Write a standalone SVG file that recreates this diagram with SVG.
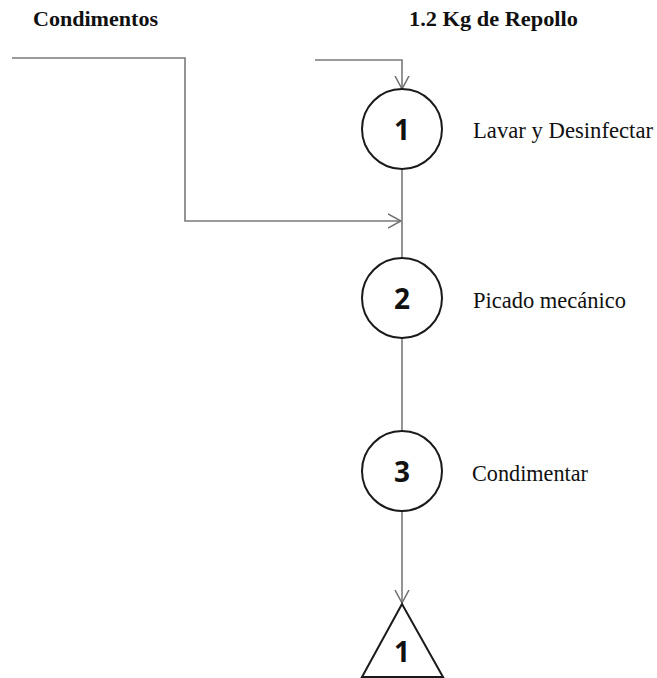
<svg xmlns="http://www.w3.org/2000/svg" width="657" height="678" viewBox="0 0 657 678">
  <defs>
    <marker id="chev" viewBox="0 0 14 16" refX="13" refY="8" markerWidth="14" markerHeight="16" markerUnits="userSpaceOnUse" orient="auto">
      <path d="M0,1 L13,8 L0,15" fill="none" stroke="#6e6e6e" stroke-width="1.5"/>
    </marker>
  </defs>
  <style>
    .flow { fill: none; stroke: #7a7a7a; stroke-width: 1.6; }
    .op { fill: #ffffff; stroke: #1a1a1a; stroke-width: 2; }
    .num { font-family: "Open Sans", "Liberation Sans", sans-serif; font-weight: bold; font-size: 28px; fill: #111; text-anchor: middle; }
    .head { font-family: "Liberation Serif", serif; font-weight: bold; font-size: 20.5px; fill: #111; }
    .lbl { font-family: "Liberation Serif", serif; font-size: 22.5px; fill: #111; }
  </style>

  <rect width="657" height="678" fill="#ffffff"/>

  <!-- input labels -->
  <text class="head" x="33" y="26" textLength="125" lengthAdjust="spacingAndGlyphs">Condimentos</text>
  <text class="head" x="409" y="26" textLength="169" lengthAdjust="spacingAndGlyphs">1.2 Kg de Repollo</text>

  <!-- connectors -->
  <g id="connectors">
    <path class="flow" d="M315,60 H402 V89" marker-end="url(#chev)"/>
    <path class="flow" d="M12,58 H185 V221 H401" marker-end="url(#chev)"/>
    <path class="flow" d="M402,169 V258"/>
    <path class="flow" d="M402,338 V431"/>
    <path class="flow" d="M402,511 V603" marker-end="url(#chev)"/>
  </g>

  <g id="op1">
    <circle class="op" cx="402" cy="129" r="40"/>
    <text class="num" x="402" y="140">1</text>
    <text class="lbl" x="473" y="138" textLength="180" lengthAdjust="spacingAndGlyphs">Lavar y Desinfectar</text>
  </g>

  <g id="op2">
    <circle class="op" cx="402" cy="298" r="40"/>
    <text class="num" x="402" y="309">2</text>
    <text class="lbl" x="473" y="308" textLength="153" lengthAdjust="spacingAndGlyphs">Picado mecánico</text>
  </g>

  <g id="op3">
    <circle class="op" cx="402" cy="471" r="40"/>
    <text class="num" x="402" y="482">3</text>
    <text class="lbl" x="472" y="481" textLength="116" lengthAdjust="spacingAndGlyphs">Condimentar</text>
  </g>

  <g id="store1">
    <polygon class="op" points="402,604 362,677 443,677"/>
    <text class="num" x="402" y="662">1</text>
  </g>
</svg>
